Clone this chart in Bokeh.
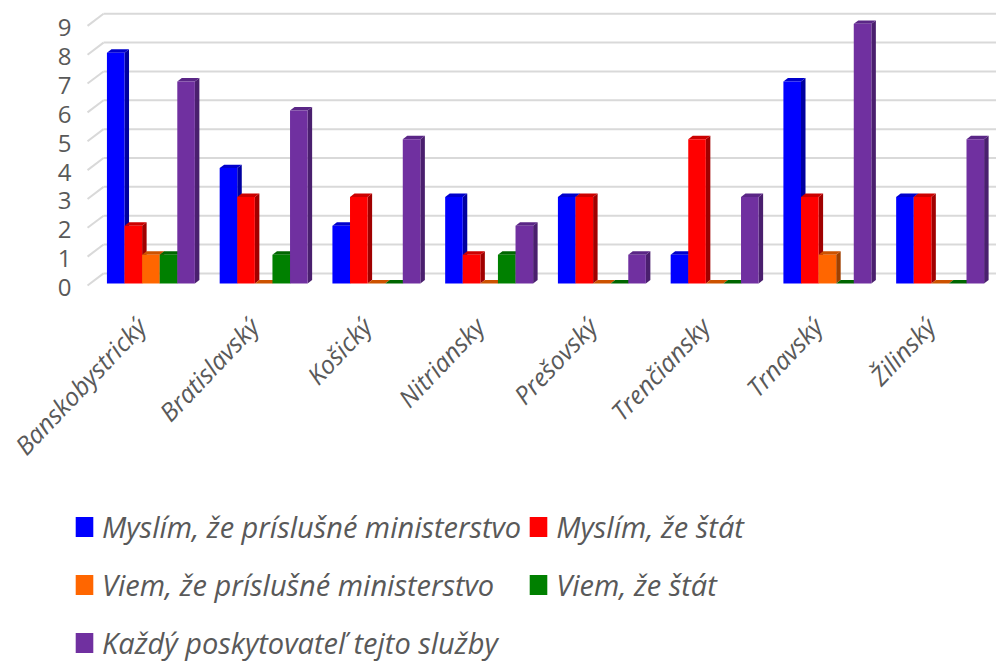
import math
from bokeh.plotting import figure
from bokeh.models import Range1d, Legend, LegendItem
from bokeh.core.properties import value
from bokeh.embed import file_html
from bokeh.resources import INLINE

# ---- data ----
categories = ["Banskobystrický", "Bratislavský", "Košický", "Nitriansky",
              "Prešovský", "Trenčiansky", "Trnavský", "Žilinský"]
series_names = ["Myslím, že príslušné ministerstvo", "Myslím, že štát",
                "Viem, že príslušné ministerstvo", "Viem, že štát",
                "Každý poskytovateľ tejto služby"]
myslim_ministerstvo = [8, 4, 2, 3, 3, 1, 7, 3]
myslim_stat = [2, 3, 3, 1, 3, 5, 3, 3]
viem_ministerstvo = [1, 0, 0, 0, 0, 0, 1, 0]
viem_stat = [1, 1, 0, 1, 0, 0, 0, 0]
kazdy_poskytovatel = [7, 6, 5, 2, 1, 3, 9, 5]
y_ticks = [0, 1, 2, 3, 4, 5, 6, 7, 8, 9]
y_tick_labels = [str(t) for t in y_ticks]

series_values = [myslim_ministerstvo, myslim_stat, viem_ministerstvo, viem_stat, kazdy_poskytovatel]
front_colors = ["#0000FF", "#FF0000", "#FF6600", "#008000", "#7030A0"]
top_colors = ["#0000CC", "#CC0000", "#CC5200", "#006600", "#5A2686"]
side_colors = ["#0000A0", "#A00000", "#A04000", "#004E00", "#4A1F6E"]

# ---- geometry (styles) ----
BW = 0.156          # bar width in x units
DX = 0.04           # 3D depth offset (x units)
DY = 0.12           # 3D depth offset (y units)
GRID_DY = 0.35      # back wall offset
X0, X1 = -1.334, 7.5
Y0, Y1 = -13.137, 9.809
TXT = "#595959"
FONT = "Open Sans"

p = figure(width=996, height=662, x_range=Range1d(X0, X1), y_range=Range1d(Y0, Y1),
           output_backend="svg", toolbar_location=None,
           min_border_left=0, min_border_right=0, min_border_top=0, min_border_bottom=0)
p.outline_line_color = None
p.xgrid.visible = False
p.ygrid.visible = False
p.xaxis.visible = False
p.yaxis.visible = False

# back-wall grid lines with a perspective diagonal on the left
gx_front, gx_back = -0.562, -0.42
p.segment(x0=[gx_back] * len(y_ticks), y0=[t + GRID_DY for t in y_ticks],
          x1=[X1] * len(y_ticks), y1=[t + GRID_DY for t in y_ticks],
          line_color="#D9D9D9", line_width=2)
p.segment(x0=[gx_front] * len(y_ticks), y0=[t - 0.07 for t in y_ticks],
          x1=[gx_back] * len(y_ticks), y1=[t + GRID_DY for t in y_ticks],
          line_color="#D9D9D9", line_width=2)

# value-axis tick labels
p.text(x=[-0.704] * len(y_ticks), y=y_ticks, text=y_tick_labels,
       text_align="right", text_baseline="middle", y_offset=4,
       text_font=value(FONT), text_font_size="24px", text_color=TXT)

legend_items = []
for s, vals in enumerate(series_values):
    off = (s - 2) * BW
    xs_side, ys_side, xs_top, ys_top, xc = [], [], [], [], []
    for i, v in enumerate(vals):
        cx = i + off
        l, r = cx - BW / 2, cx + BW / 2
        xc.append(cx)
        xs_side.append([r, r + DX, r + DX, r])
        ys_side.append([0, DY, v + DY, v])
        xs_top.append([l, l + DX, r + DX, r])
        ys_top.append([v, v + DY, v + DY, v])
    p.patches(xs_side, ys_side, fill_color=side_colors[s], line_color=None)
    p.patches(xs_top, ys_top, fill_color=top_colors[s], line_color=None)
    r_front = p.vbar(x=xc, top=vals, bottom=0, width=BW, fill_color=front_colors[s], line_color=None)
    legend_items.append(LegendItem(label=series_names[s], renderers=[r_front]))

# category labels (rotated), anchored at each category position below zero
p.text(x=list(range(len(categories))), y=[0] * len(categories), text=categories,
       angle=math.radians(46.5), text_align="right", text_baseline="middle",
       x_offset=-10, y_offset=38,
       text_font=value(FONT), text_font_style="italic", text_font_size="25px", text_color=TXT)

legend = Legend(items=legend_items, orientation="horizontal", ncols=2,
                location=(73, -6), glyph_width=22, glyph_height=25,
                label_standoff=7, label_height=52, spacing=6, padding=0, margin=0,
                label_text_font=FONT, label_text_font_style="italic",
                label_text_font_size="29px", label_text_color=TXT,
                border_line_color=None, background_fill_alpha=0)
p.add_layout(legend, "center")

open("out.html", "w").write(file_html(p, INLINE))
